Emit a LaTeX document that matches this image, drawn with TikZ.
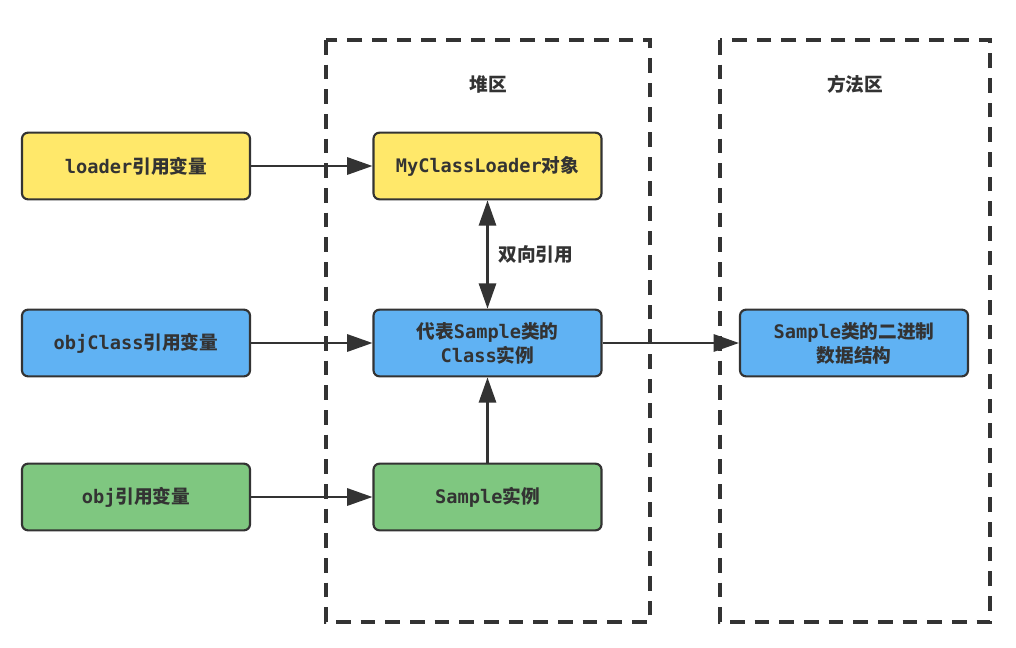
\documentclass[tikz,border=0pt]{standalone}
\usepackage{fontspec}
\setmainfont{Noto Sans CJK SC}
\newfontfamily\mono{DejaVu Sans Mono}
\usetikzlibrary{arrows.meta}
\definecolor{boxyellow}{HTML}{FFE86A}
\definecolor{boxblue}{HTML}{60B2F3}
\definecolor{boxgreen}{HTML}{7FC780}
\definecolor{linegray}{HTML}{333333}

\begin{document}
\begin{tikzpicture}[x=0.75pt,y=-0.75pt]
\useasboundingbox[fill=white] (0,0) rectangle (1016,647);

% the two memory areas
\begin{scope}[draw=linegray,line width=2.8pt,dash pattern=on 11pt off 7.5pt]
    \draw (326,40) rectangle (650,622);
    \draw (720,40) rectangle (990,622);
\end{scope}
\node[text=linegray,font=\bfseries\fontsize{14}{16}\selectfont] (heap) at (488,84) {堆区};
\node[text=linegray,font=\bfseries\fontsize{14}{16}\selectfont] (method) at (855,84) {方法区};

\begin{scope}[every node/.style={draw=linegray,line width=1.6pt,rounded corners=4.5pt,
                                 minimum width=171pt,minimum height=50pt,align=center,
                                 text=linegray,font=\bfseries\fontsize{14}{18}\selectfont}]
    \node[fill = boxyellow] (loaderRef) at (136,166) {{\mono loader}引用变量};
    \node[fill = boxblue]   (classRef)  at (136,343) {{\mono objClass}引用变量};
    \node[fill = boxgreen]  (objRef)    at (136,497) {{\mono obj}引用变量};
    \node[fill = boxyellow] (loaderObj) at (487.5,166) {{\mono MyClassLoader}对象};
    \node[fill = boxblue]   (classObj)  at (487.5,343) {代表{\mono Sample}类的\\{\mono Class}实例};
    \node[fill = boxgreen]  (sampleObj) at (487.5,497) {{\mono Sample}实例};
    \node[fill = boxblue]   (binData)   at (854,343) {{\mono Sample}类的二进制\\数据结构};
\end{scope}

\begin{scope}[>={Triangle[length=19pt,width=13pt]},
              every edge/.style={draw=linegray,line width=1.6pt}]
    \path [->] (loaderRef) edge (loaderObj);
    \path [->] (classRef) edge (classObj);
    \path [->] (objRef) edge (sampleObj);
    \path [<->] (loaderObj) edge node[right=4pt,text=linegray,font=\bfseries\fontsize{14}{16}\selectfont] {双向引用} (classObj);
    \path [->] (sampleObj) edge (classObj);
    \path [->] (classObj) edge (binData);
\end{scope}
\end{tikzpicture}
\end{document}
